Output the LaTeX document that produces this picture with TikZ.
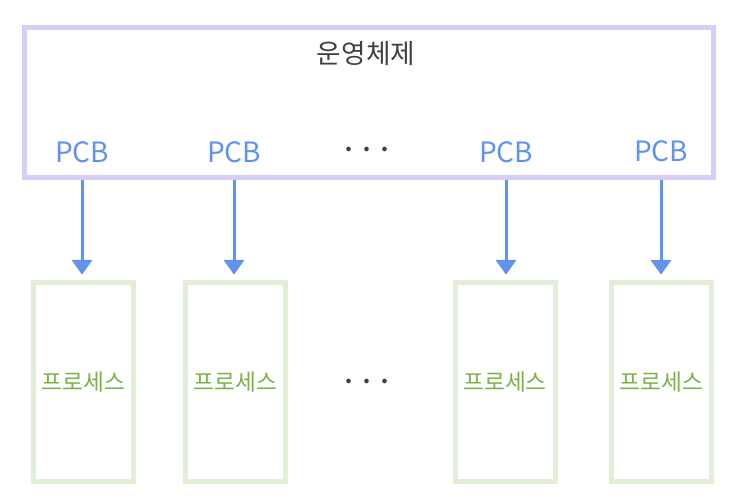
\documentclass[tikz,border=0pt]{standalone}
\usepackage{fontspec}
\setmainfont{Noto Sans CJK KR}
\usepackage{tikz}
\usetikzlibrary{arrows.meta,positioning,calc}

\definecolor{osline}{RGB}{217,205,247}
\definecolor{procline}{RGB}{226,238,214}
\definecolor{pcbblue}{RGB}{96,146,238}
\definecolor{procgreen}{RGB}{122,178,72}
\definecolor{darktext}{RGB}{64,64,64}

\begin{document}
\begin{tikzpicture}[
    x=0.75pt,y=0.75pt,
    osbox/.style={draw=osline,line width=3.75pt,minimum width=516.75pt,minimum height=112.5pt},
    procbox/.style={draw=procline,line width=3.75pt,minimum width=75pt,minimum height=149.25pt,
        text=procgreen,font=\fontsize{17}{19}\selectfont},
    pcblabel/.style={text=pcbblue,font=\fontsize{21}{24}\selectfont},
    dotrow/.style={text=darktext,font=\bfseries\fontsize{16}{18}\selectfont},
    arrow/.style={draw=pcbblue,line width=2.25pt,-{Triangle[width=15pt,length=11pt]},shorten >=4pt}
]
    \useasboundingbox (0,0) rectangle (744,504);

    \node[osbox] (os) at (369,401.5) {};
    \node[text=darktext,font=\fontsize{20}{23}\selectfont] (title) at (366,450) {운영체제};

    \node[pcblabel] (pcb1) at (82,352) {PCB};
    \node[pcblabel] (pcb2) at (234,352) {PCB};
    \node[dotrow] (dots1) at (367,352) {·\hspace{4pt}·\hspace{4pt}·};
    \node[pcblabel] (pcb3) at (506,352) {PCB};
    \node[pcblabel] (pcb4) at (661,353) {PCB};

    \node[procbox] (proc1) at (83.5,122) {프로세스};
    \node[procbox] (proc2) at (235.5,122) {프로세스};
    \node[dotrow] (dots2) at (367,120) {·\hspace{4pt}·\hspace{4pt}·};
    \node[procbox] (proc3) at (505,122) {프로세스};
    \node[procbox] (proc4) at (661.5,122) {프로세스};

    \draw[arrow] (os.south -| pcb1) -- (proc1.north -| pcb1);
    \draw[arrow] (os.south -| pcb2) -- (proc2.north -| pcb2);
    \draw[arrow] (os.south -| pcb3) -- (proc3.north -| pcb3);
    \draw[arrow] (os.south -| pcb4) -- (proc4.north -| pcb4);
\end{tikzpicture}
\end{document}
